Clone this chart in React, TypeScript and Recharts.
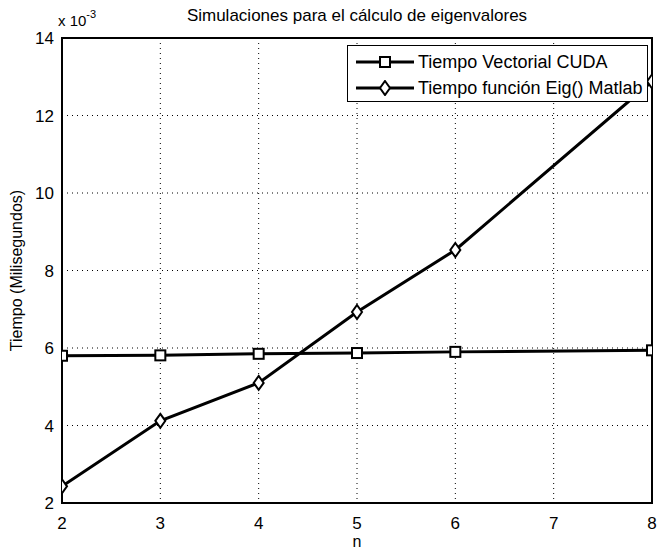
import React from "react";
import {
  LineChart,
  Line,
  XAxis,
  YAxis,
  CartesianGrid,
  ReferenceArea,
} from "recharts";

const nValues = [2, 3, 4, 5, 6, 8];
const cudaTimes = [5.8, 5.81, 5.85, 5.87, 5.9, 5.94];
const eigTimes = [2.43, 4.12, 5.1, 6.93, 8.53, 12.88];
const xTicks = [2, 3, 4, 5, 6, 7, 8];
const yTicks = [2, 4, 6, 8, 10, 12, 14];

const data = nValues.map((n, i) => ({ n, cuda: cudaTimes[i], eig: eigTimes[i] }));

const font = "'Liberation Sans', Arial, sans-serif";

const Square = (props: any) => {
  const { cx, cy } = props;
  if (cx == null || cy == null) return null;
  return (
    <rect x={cx - 5} y={cy - 5} width={10} height={10} fill="white" stroke="black" strokeWidth={2} />
  );
};

const Diamond = (props: any) => {
  const { cx, cy } = props;
  if (cx == null || cy == null) return null;
  return (
    <polygon
      points={`${cx},${cy - 7} ${cx + 5},${cy} ${cx},${cy + 7} ${cx - 5},${cy}`}
      fill="white"
      stroke="black"
      strokeWidth={2}
    />
  );
};

const legendRows = [
  { label: "Tiempo Vectorial CUDA", marker: "square" },
  { label: "Tiempo función Eig() Matlab", marker: "diamond" },
];

const LegendBox = () => (
  <div
    style={{
      position: "absolute",
      left: 347,
      top: 45,
      width: 301,
      height: 57,
      border: "1.5px solid black",
      background: "white",
      boxSizing: "border-box",
      padding: "3px 0 0 8px",
      fontFamily: font,
      fontSize: 18,
      color: "black",
    }}
  >
    {legendRows.map((r) => (
      <div key={r.label} style={{ display: "flex", alignItems: "center", height: 26 }}>
        <svg width={60} height={16}>
          <line x1={0} y1={8} x2={58} y2={8} stroke="black" strokeWidth={3} />
          {r.marker === "square" ? (
            <rect x={24} y={3} width={10} height={10} fill="white" stroke="black" strokeWidth={2} />
          ) : (
            <polygon points="29,1 34,8 29,15 24,8" fill="white" stroke="black" strokeWidth={2} />
          )}
        </svg>
        <span style={{ marginLeft: 2, whiteSpace: "nowrap" }}>{r.label}</span>
      </div>
    ))}
  </div>
);

export default function App() {
  return (
    <div style={{ position: "absolute", left: 0, top: 0, width: 657, height: 551, background: "white", overflow: "hidden" }}>
      <LineChart
        width={657}
        height={551}
        data={data}
        margin={{ top: 38, right: 5, left: 0, bottom: 0 }}
        style={{ position: "absolute", left: 0, top: 0 }}
      >
        <CartesianGrid stroke="black" strokeDasharray="1 4" strokeWidth={1} />
        <XAxis
          dataKey="n"
          type="number"
          domain={[2, 8]}
          ticks={xTicks}
          height={48}
          tickLine={false}
          tickMargin={8}
          axisLine={{ stroke: "black", strokeWidth: 2 }}
          tick={{ fill: "black", fontSize: 17, fontFamily: font }}
          allowDataOverflow
        />
        <YAxis
          type="number"
          domain={[2, 14]}
          ticks={yTicks}
          width={62}
          tickLine={false}
          axisLine={{ stroke: "black", strokeWidth: 2 }}
          tick={{ fill: "black", fontSize: 17, fontFamily: font }}
          label={{
            value: "Tiempo (Milisegundos)",
            angle: -90,
            position: "insideLeft",
            offset: 16,
            style: { textAnchor: "middle", fill: "black", fontSize: 16, fontFamily: font },
          }}
        />
        <ReferenceArea
          x1={2}
          x2={8}
          y1={2}
          y2={14}
          fill="none"
          fillOpacity={0}
          stroke="black"
          strokeWidth={2}
          ifOverflow="visible"
        />
        <Line
          type="linear"
          dataKey="cuda"
          stroke="black"
          strokeWidth={3}
          dot={<Square />}
          activeDot={false}
          isAnimationActive={false}
        />
        <Line
          type="linear"
          dataKey="eig"
          stroke="black"
          strokeWidth={3}
          dot={<Diamond />}
          activeDot={false}
          isAnimationActive={false}
        />
      </LineChart>
      <div
        style={{
          position: "absolute",
          left: 0,
          width: 714,
          top: 6,
          textAlign: "center",
          fontFamily: font,
          fontSize: 17,
          color: "black",
        }}
      >
        Simulaciones para el cálculo de eigenvalores
      </div>
      <div style={{ position: "absolute", left: 58, top: 10, fontFamily: font, fontSize: 15, color: "black" }}>
        x 10<sup style={{ fontSize: 11, position: "relative", top: -2 }}>-3</sup>
      </div>
      <div
        style={{
          position: "absolute",
          left: 0,
          top: 533,
          width: 714,
          textAlign: "center",
          fontFamily: font,
          fontSize: 16,
          color: "black",
        }}
      >
        n
      </div>
      <LegendBox />
    </div>
  );
}
